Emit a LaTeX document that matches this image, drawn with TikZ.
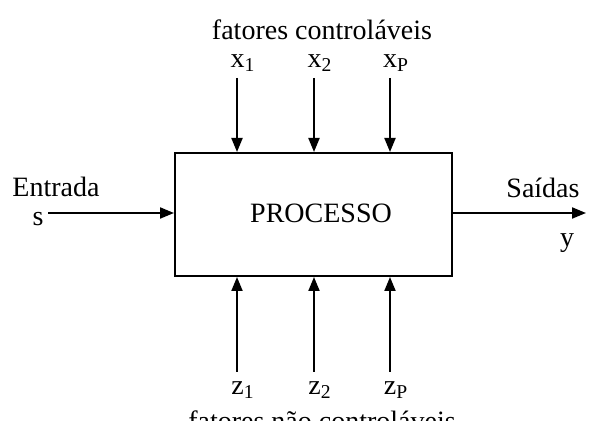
\documentclass[tikz,border=0pt]{standalone}
\usepackage{fontspec}
\setmainfont{Liberation Serif}
\usepackage{tikz}
\usetikzlibrary{arrows.meta, positioning}

\begin{document}
\begin{tikzpicture}[
x=0.5pt, y=-0.5pt,
proc/.style={draw, line width=1pt, minimum width=138.5pt, minimum height=61.5pt, inner sep=0pt},
arr/.style={-{Triangle[length=7pt, width=5.5pt]}, line width=1pt},
lbl/.style={inner sep=1pt},
every node/.style={font=\fontsize{14}{16}\selectfont}
]
\useasboundingbox (0,0) rectangle (589,421);
\clip (0,0) rectangle (589,421);
\node[proc] (box) at (313.5,214.5) {};
\node (name) at (321,213) {PROCESSO};
% fatores controlaveis
\node (ctrl) at (322,30) {fatores controláveis};
\node[lbl] (x1) at (243,63) {x\textsubscript{1}};
\node[lbl] (x2) at (320,63) {x\textsubscript{2}};
\node[lbl] (xp) at (396,63) {x\textsubscript{P}};
\coordinate (a1) at (237,78);
\coordinate (a2) at (314,78);
\coordinate (ap) at (390,78);
\draw[arr] (a1) -- (a1 |- box.north);
\draw[arr] (a2) -- (a2 |- box.north);
\draw[arr] (ap) -- (ap |- box.north);
% fatores nao controlaveis
\node[lbl] (z1) at (243,390) {z\textsubscript{1}};
\node[lbl] (z2) at (320,390) {z\textsubscript{2}};
\node[lbl] (zp) at (396,390) {z\textsubscript{P}};
\node (nctrl) at (322,421) {fatores não controláveis};
\coordinate (b1) at (237,372);
\coordinate (b2) at (314,372);
\coordinate (bp) at (390,372);
\draw[arr] (b1) -- (b1 |- box.south);
\draw[arr] (b2) -- (b2 |- box.south);
\draw[arr] (bp) -- (bp |- box.south);
% entrada e saidas
\node (in) at (56,187) {Entrada};
\node[lbl] (s) at (38,219) {s};
\coordinate (sin) at (48,213);
\draw[arr] (sin) -- (sin -| box.west);
\node (out) at (543,188) {Saídas};
\node[lbl] (y) at (567,243) {y};
\coordinate (yout) at (586,213);
\draw[arr] (yout -| box.east) -- (yout);
\end{tikzpicture}
\end{document}
